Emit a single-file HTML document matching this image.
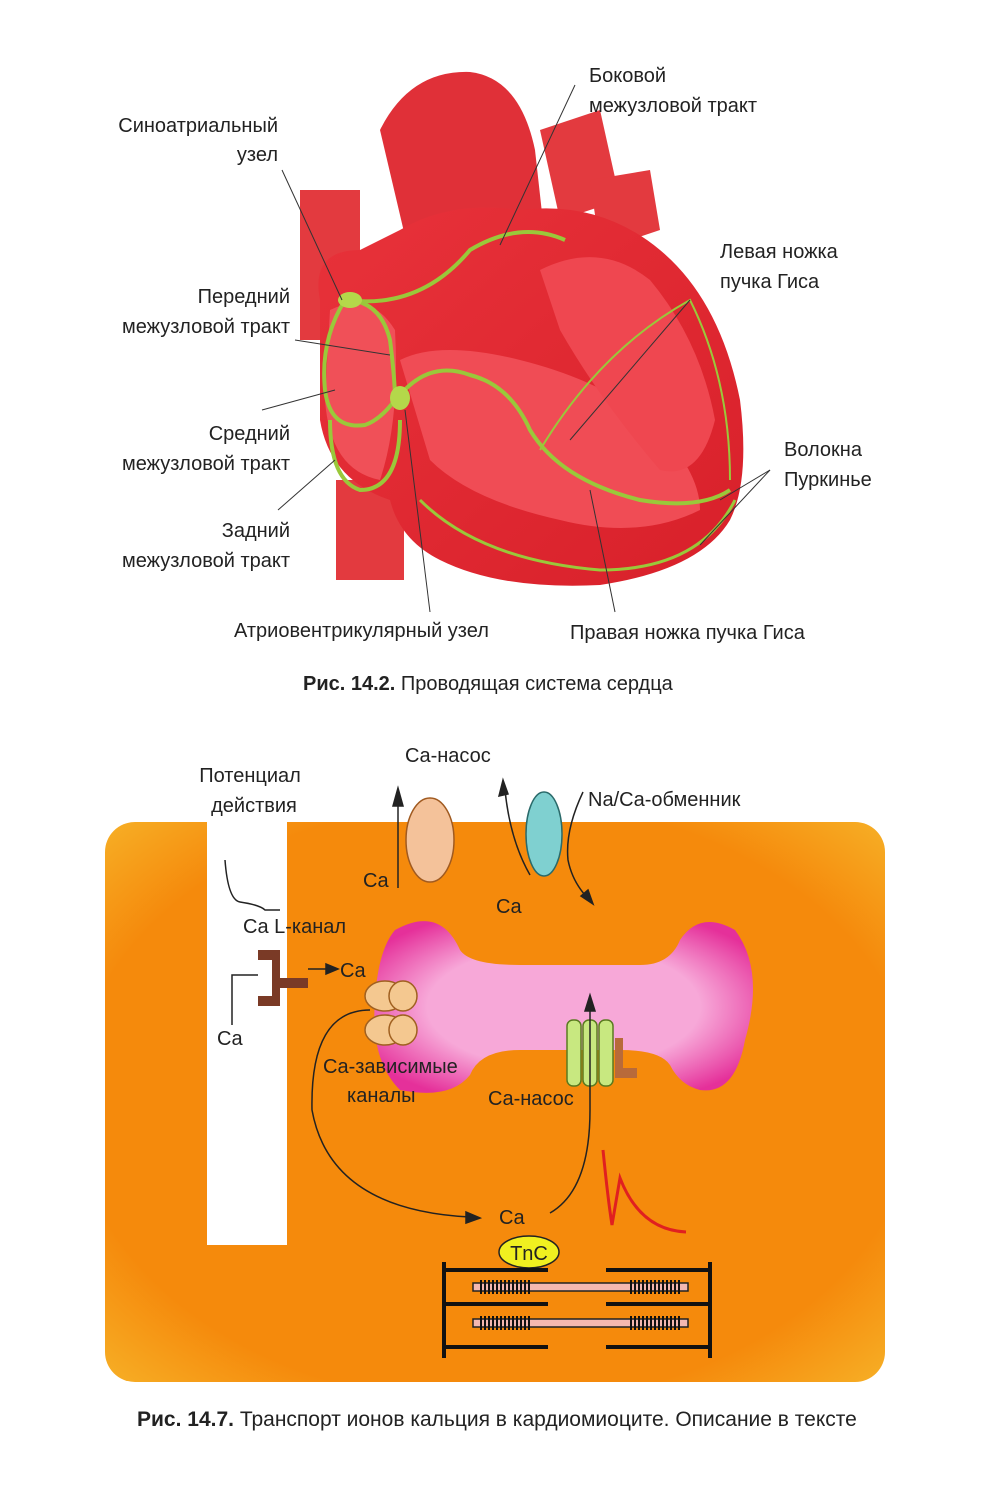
<!DOCTYPE html>
<html><head><meta charset="utf-8"><style>
body{margin:0;background:#fff}
svg{display:block}
text{font-family:"Liberation Sans",sans-serif;fill:#222}
</style></head><body>
<svg width="1000" height="1511" viewBox="0 0 1000 1511" xmlns="http://www.w3.org/2000/svg">
<defs>
<radialGradient id="org" cx="50%" cy="50%" r="72%">
<stop offset="0.75" stop-color="#f58a0c"/><stop offset="1" stop-color="#f7b228"/>
</radialGradient>
<radialGradient id="pk" cx="50%" cy="50%" r="60%">
<stop offset="0.6" stop-color="#f7a8d8"/><stop offset="1" stop-color="#e5309a"/>
</radialGradient>
<linearGradient id="hr" x1="0" y1="0" x2="1" y2="1">
<stop offset="0" stop-color="#e8323a"/><stop offset="1" stop-color="#d8202a"/>
</linearGradient>
</defs>
<g>
<rect x="336" y="480" width="68" height="100" fill="#e33a3f"/>
<rect x="300" y="190" width="60" height="150" fill="#e33a3f"/>
<path d="M380 130 Q410 70 470 72 Q520 78 535 150 L545 240 L420 300 Z" fill="#e03038"/>
<path d="M540 130 L600 110 L620 200 L560 220 Z" fill="#e33a3f"/>
<path d="M590 180 L650 170 L660 230 L600 250Z" fill="#e33a3f"/>
<path d="M320 300 Q310 250 360 250 L400 230 Q450 200 520 210 Q600 200 660 250 Q720 300 740 400 Q750 480 730 520 Q700 570 600 585 Q500 590 440 560 Q400 540 390 500 Q330 480 320 420 Z" fill="url(#hr)"/>
<path d="M330 310 Q370 290 395 330 Q400 420 380 480 Q330 470 325 400 Z" fill="#f05058"/>
<path d="M400 360 Q440 340 520 360 Q600 380 650 420 Q700 470 700 510 Q640 540 560 520 Q470 500 430 460 Z" fill="#f04c55"/>
<path d="M540 270 Q600 240 650 280 Q700 340 715 420 Q700 480 660 470 Q600 400 560 330 Z" fill="#ef4750"/>
<g fill="none" stroke="#9ac83a" stroke-width="4">
<path d="M345 300 Q320 340 325 390 Q330 430 365 425 Q380 420 395 400"/>
<path d="M345 300 Q380 300 390 340 Q395 380 395 400"/>
<path d="M345 300 Q420 310 470 250 Q520 220 565 240"/>
<path d="M330 420 Q330 480 360 490 Q400 490 400 420"/>
<path d="M400 395 Q430 360 470 375 Q510 385 530 430 Q560 480 640 500 Q700 510 730 490"/>
<path d="M420 500 Q480 560 600 570 Q700 570 735 500" stroke-width="3"/>
<path d="M540 450 Q600 350 690 300 Q730 380 730 480" stroke-width="2"/>
</g>
<ellipse cx="350" cy="300" rx="12" ry="8" fill="#b4d84a"/>
<ellipse cx="400" cy="398" rx="10" ry="12" fill="#b4d84a"/>
</g>
<g stroke="#333" stroke-width="1" fill="none">
<line x1="282" y1="170" x2="342" y2="300"/>
<line x1="575" y1="85" x2="500" y2="245"/>
<line x1="295" y1="340" x2="390" y2="355"/>
<line x1="262" y1="410" x2="335" y2="390"/>
<line x1="278" y1="510" x2="335" y2="460"/>
<line x1="430" y1="612" x2="405" y2="410"/>
<line x1="690" y1="300" x2="570" y2="440"/>
<line x1="615" y1="612" x2="590" y2="490"/>
<line x1="770" y1="470" x2="720" y2="500"/>
<line x1="770" y1="470" x2="700" y2="545"/>
</g>
<g font-size="20">
<text x="278" y="132" text-anchor="end">Синоатриальный</text>
<text x="278" y="161" text-anchor="end">узел</text>
<text x="589" y="82">Боковой</text>
<text x="589" y="112">межузловой тракт</text>
<text x="290" y="303" text-anchor="end">Передний</text>
<text x="290" y="333" text-anchor="end">межузловой тракт</text>
<text x="720" y="258">Левая ножка</text>
<text x="720" y="288">пучка Гиса</text>
<text x="290" y="440" text-anchor="end">Средний</text>
<text x="290" y="470" text-anchor="end">межузловой тракт</text>
<text x="784" y="456">Волокна</text>
<text x="784" y="486">Пуркинье</text>
<text x="290" y="537" text-anchor="end">Задний</text>
<text x="290" y="567" text-anchor="end">межузловой тракт</text>
<text x="234" y="637">Атриовентрикулярный узел</text>
<text x="570" y="639">Правая ножка пучка Гиса</text>
<text x="303" y="690"><tspan font-weight="bold">Рис. 14.2.</tspan> Проводящая система сердца</text>
</g>
<rect x="105" y="822" width="780" height="560" rx="30" fill="url(#org)"/>
<rect x="207" y="810" width="80" height="435" fill="#fff"/>
<path d="M395 930 Q440 905 460 950 Q470 965 520 965 L640 965 Q670 965 680 940 Q700 910 735 930 Q765 970 745 1040 Q735 1095 700 1090 Q680 1085 670 1065 Q660 1050 620 1050 L520 1050 Q480 1050 470 1075 Q450 1100 400 1090 Q370 1060 375 1000 Q378 950 395 930 Z" fill="url(#pk)"/>
<ellipse cx="430" cy="840" rx="24" ry="42" fill="#f4c29a" stroke="#a05a20" stroke-width="1.5"/>
<ellipse cx="544" cy="834" rx="18" ry="42" fill="#7fd0d0" stroke="#2a6a6a" stroke-width="1.5"/>
<g fill="#f4c890" stroke="#a06020" stroke-width="1.5">
<ellipse cx="385" cy="996" rx="20" ry="15"/><ellipse cx="385" cy="1030" rx="20" ry="15"/>
<ellipse cx="403" cy="996" rx="14" ry="15"/><ellipse cx="403" cy="1030" rx="14" ry="15"/>
</g>
<g fill="#c8e880" stroke="#5a7a20" stroke-width="1.5">
<rect x="567" y="1020" width="14" height="66" rx="6"/><rect x="583" y="1020" width="14" height="66" rx="6"/><rect x="599" y="1020" width="14" height="66" rx="6"/>
</g>
<path d="M615 1038 h8 v30 h14 v10 h-22z" fill="#b86a3a"/>
<path d="M258 950 h22 v28 h28 v10 h-28 v18 h-22 v-10 h14 v-36 h-14z" fill="#7a3a26"/>
<g stroke="#222" stroke-width="1.5" fill="none">
<path d="M398 888 V805"/><path d="M398 788 l-5 18 h10z" fill="#222"/>
<path d="M530 875 Q510 840 505 790"/><path d="M503 780 l-4 16 l9-2z" fill="#222"/>
<path d="M583 792 Q565 830 568 860 Q572 880 585 895"/><path d="M593 904 l-5 -14 l-7 6z" fill="#222"/>
<path d="M225 860 Q228 900 240 902 Q260 905 265 910 H280"/>
<path d="M232 1025 V975 H258"/>
<path d="M308 969 H328"/><path d="M338 969 l-12 -5 v10z" fill="#222"/>
<path d="M370 1010 Q310 1010 312 1110 Q330 1210 470 1217"/><path d="M480 1218 l-14 -6 v11z" fill="#222"/>
<path d="M550 1213 Q590 1190 590 1110 V1010"/><path d="M590 995 l-5 16 h10z" fill="#222"/>
</g>
<path d="M603 1150 Q608 1200 612 1225 L620 1178 Q640 1230 686 1232" stroke="#e02020" stroke-width="3" fill="none"/>
<ellipse cx="529" cy="1252" rx="30" ry="16" fill="#f0f020" stroke="#222" stroke-width="1.5"/>
<text x="529" y="1260" font-size="20" text-anchor="middle">TnC</text>
<g stroke="#111" stroke-width="4">
<line x1="444" y1="1262" x2="444" y2="1358"/><line x1="710" y1="1262" x2="710" y2="1358"/>
<line x1="444" y1="1270" x2="548" y2="1270"/><line x1="606" y1="1270" x2="710" y2="1270"/>
<line x1="444" y1="1304" x2="548" y2="1304"/><line x1="606" y1="1304" x2="710" y2="1304"/>
<line x1="444" y1="1347" x2="548" y2="1347"/><line x1="606" y1="1347" x2="710" y2="1347"/>
</g>
<g fill="#f4b8b0" stroke="#222" stroke-width="1.5">
<rect x="473" y="1283" width="215" height="8"/><rect x="473" y="1319" width="215" height="8"/>
</g>
<g stroke="#111" stroke-width="14" stroke-dasharray="2 2">
<line x1="480" y1="1287" x2="530" y2="1287"/><line x1="630" y1="1287" x2="680" y2="1287"/>
<line x1="480" y1="1323" x2="530" y2="1323"/><line x1="630" y1="1323" x2="680" y2="1323"/>
</g>
<g font-size="20">
<text x="250" y="782" text-anchor="middle">Потенциал</text>
<text x="254" y="812" text-anchor="middle">действия</text>
<text x="405" y="762">Ca-насос</text>
<text x="588" y="806">Na/Ca-обменник</text>
<text x="363" y="887">Ca</text>
<text x="496" y="913">Ca</text>
<text x="243" y="933">Ca L-канал</text>
<text x="340" y="977">Ca</text>
<text x="217" y="1045">Ca</text>
<text x="323" y="1073">Ca-зависимые</text>
<text x="347" y="1102">каналы</text>
<text x="488" y="1105">Ca-насос</text>
<text x="499" y="1224">Ca</text>
<text x="137" y="1426" font-size="21"><tspan font-weight="bold">Рис. 14.7.</tspan> Транспорт ионов кальция в кардиомиоците. Описание в тексте</text>
</g>
</svg>
</body></html>
